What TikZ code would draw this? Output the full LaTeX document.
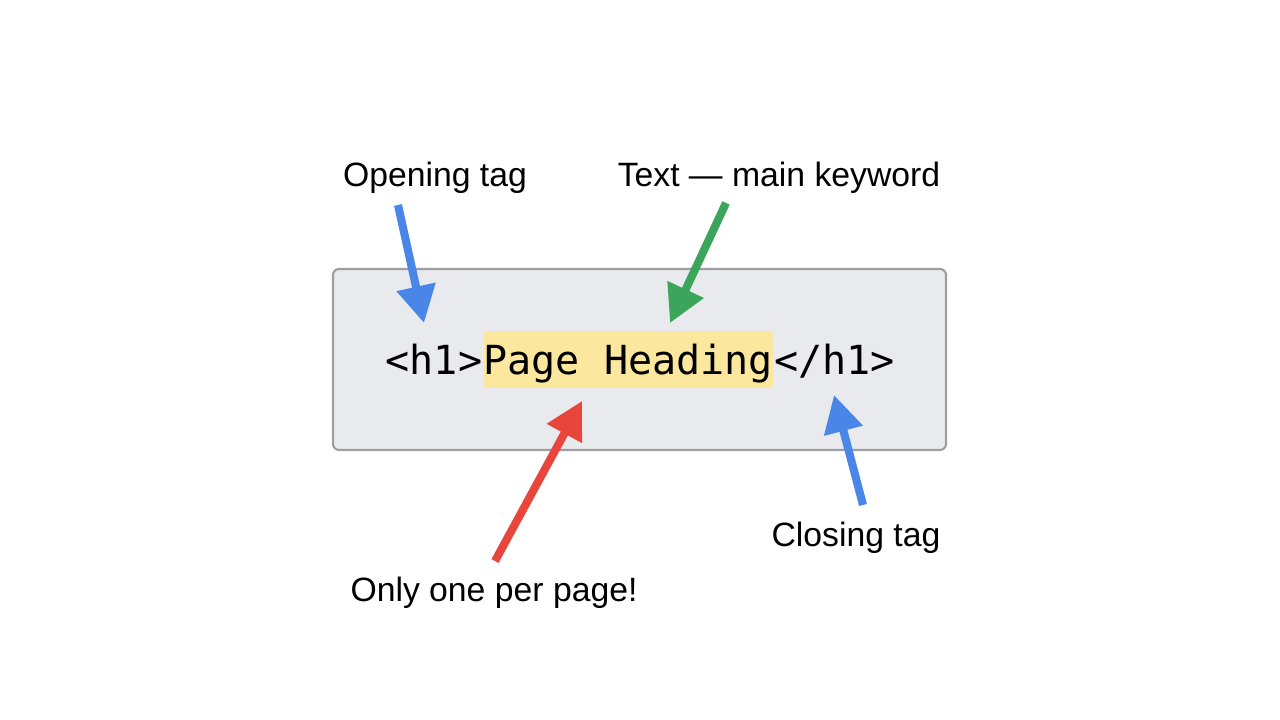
\documentclass[tikz,border=0pt]{standalone}
\usepackage{fontspec}
\setmainfont{Liberation Sans}
\newfontfamily\codefont{DejaVu Sans Mono}
\usepackage{xcolor}
\usepackage{tikz}
\usetikzlibrary{arrows.meta,positioning}

\definecolor{tagblue}{HTML}{4A86E8}
\definecolor{keygreen}{HTML}{3BA55C}
\definecolor{warnred}{HTML}{E8453C}
\definecolor{markyellow}{HTML}{FCE79E}
\definecolor{boxgrey}{HTML}{E8EAED}
\definecolor{edgegrey}{HTML}{9E9E9E}

\tikzset{
  codetext/.style={inner sep=0pt, font=\codefont\fontsize{11.4pt}{13pt}\selectfont},
  label/.style={inner sep=0pt, anchor=base, font=\fontsize{9.6pt}{11pt}\selectfont},
  pointer/.style={line width=2.3pt, -{Triangle[length=0.37cm, width=0.38cm]}},
}

\begin{document}
\begin{tikzpicture}
\useasboundingbox (0,0) rectangle (12.8,7.2);
% code box
\draw[fill=boxgrey, draw=edgegrey, line width=0.6pt, rounded corners=0.06cm] (3.33,2.70) rectangle (9.46,4.51);
\node[codetext, anchor=base west] (open) at (3.85,3.45) {<h1>};
\node[codetext, base right=0pt of open, fill=markyellow, text height=0.44cm, text depth=0.13cm] (heading) {Page Heading};
\node[codetext, base right=0pt of heading] (close) {</h1>};
% labels
\node[label] (openlbl) at (4.35,5.33) {Opening tag};
\node[label] (textlbl) at (7.79,5.33) {Text — main keyword};
\node[label] (onlylbl) at (4.94,1.18) {Only one per page!};
\node[label] (closelbl) at (8.56,1.73) {Closing tag};
% arrows
\coordinate (a1) at (3.98,5.15);
\coordinate (b1) at (4.24,3.97);
\coordinate (a2) at (7.26,5.17);
\coordinate (b2) at (6.70,3.97);
\coordinate (a3) at (4.95,1.59);
\coordinate (b3) at (5.82,3.19);
\coordinate (a4) at (8.63,2.15);
\coordinate (b4) at (8.34,3.25);
\draw[pointer, tagblue] (a1) -- (b1);
\draw[pointer, keygreen] (a2) -- (b2);
\draw[pointer, warnred] (a3) -- (b3);
\draw[pointer, tagblue] (a4) -- (b4);
\end{tikzpicture}
\end{document}
